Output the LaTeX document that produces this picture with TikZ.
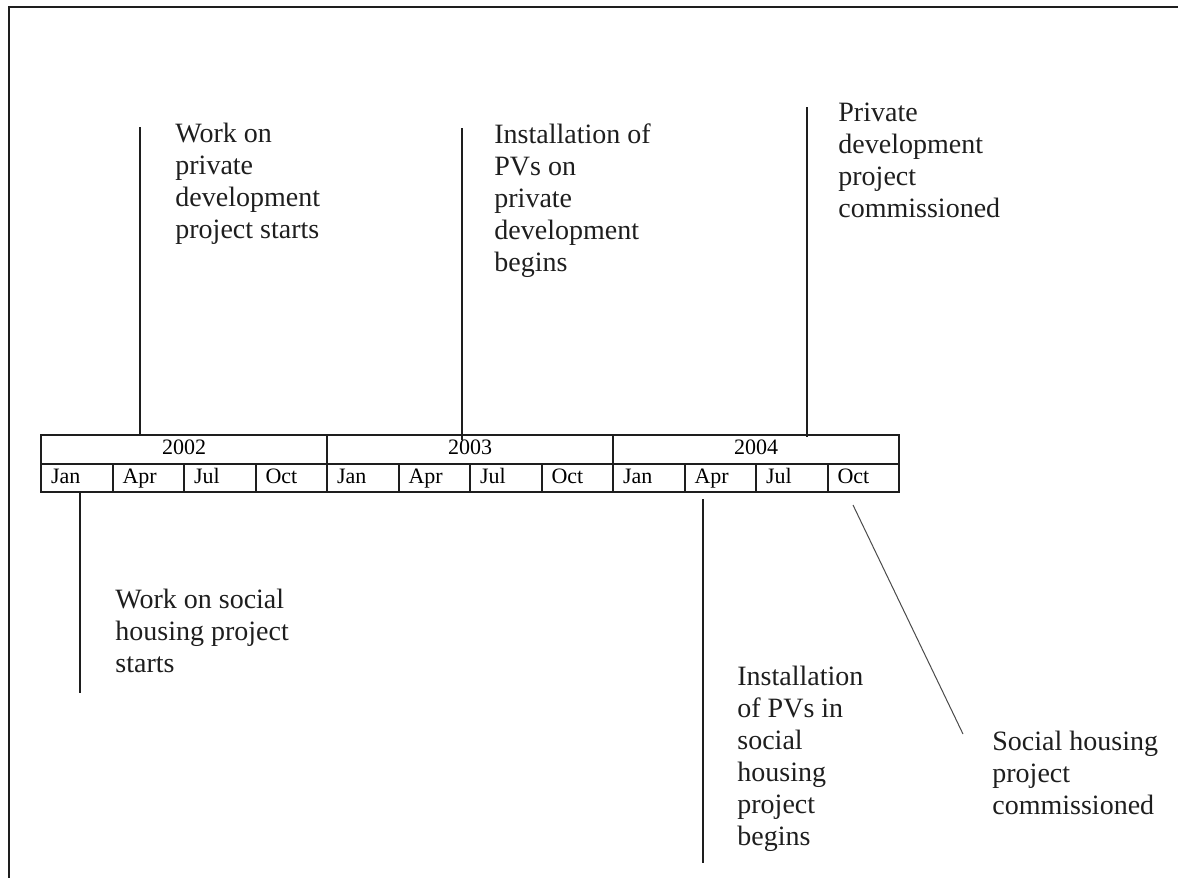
\documentclass[tikz,border=0pt]{standalone}
\usepackage{fontspec}
\setmainfont{Liberation Serif}
\usetikzlibrary{calc}
\definecolor{ink}{HTML}{1E1E1E}
\tikzset{
  yearcell/.style={draw=ink, line width=1pt, anchor=north west, inner ysep=0pt,
    minimum width=143pt, minimum height=14.5pt, text height=7.6pt, text depth=2.4pt,
    font=\fontsize{11pt}{13pt}\selectfont},
  monthcell/.style={draw=ink, line width=1pt, anchor=north west, inner ysep=0pt,
    inner xsep=5pt, text width=25.75pt, align=left, minimum height=14pt,
    text height=7.6pt, text depth=2.4pt, font=\fontsize{11pt}{13pt}\selectfont},
  evt/.style={anchor=north west, align=left, inner sep=0pt, text=ink,
    font=\fontsize{14pt}{16pt}\selectfont},
  marker/.style={draw=ink, line width=0.9pt},
}
\begin{document}
\begin{tikzpicture}[x=0.5pt, y=-0.5pt]
    \useasboundingbox (0, 0) rectangle (1178, 878);
    \clip (0, 0) rectangle (1178, 878);
    \draw[ink, line width=1.1pt] (9, 7) rectangle (1200, 900);
    \foreach \yr [count=\i from 0] in {2002, 2003, 2004}
        \node[yearcell] (y\yr) at ({40+286*\i}, 434) {\yr};
    \foreach \mon [count=\i from 1] in {Jan, Apr, Jul, Oct, Jan, Apr, Jul, Oct, Jan, Apr, Jul, Oct}
        \node[monthcell] (m\i) at ({40+71.5*(\i-1)}, 463) {\mon};
    \node[evt] (privstart) at (175, 123) {Work on\\private\\development\\project starts};
    \node[evt] (privpv) at (494, 123) {Installation of\\PVs on\\private\\development\\begins};
    \node[evt] (privdone) at (838, 103) {Private\\development\\project\\commissioned};
    \node[evt] (socstart) at (115, 589) {Work on social\\housing project\\starts};
    \node[evt] (socpv) at (737, 666) {Installation\\of PVs in\\social\\housing\\project\\begins};
    \node[evt] (socdone) at (992, 731) {Social housing\\project\\commissioned};
    \coordinate (t1) at (140, 127);
    \coordinate (t2) at (462, 128);
    \coordinate (t3) at (807, 107);
    \coordinate (b1) at (80, 693);
    \coordinate (b2) at (703, 863);
    \coordinate (d0) at (853, 505);
    \coordinate (d1) at (963, 734);
    \draw[marker] (t1) -- (t1 |- y2002.north);
    \draw[marker] (t2) -- ([yshift=-3pt]t2 |- y2003.north);
    \draw[marker] (t3) -- ([yshift=-1.5pt]t3 |- y2004.north);
    \draw[marker] (m1.south -| b1) -- (b1);
    \draw[marker] ([yshift=-3pt]m10.south -| b2) -- (b2);
    \draw[ink!80, line width=0.5pt] (d0) -- (d1);
\end{tikzpicture}
\end{document}
